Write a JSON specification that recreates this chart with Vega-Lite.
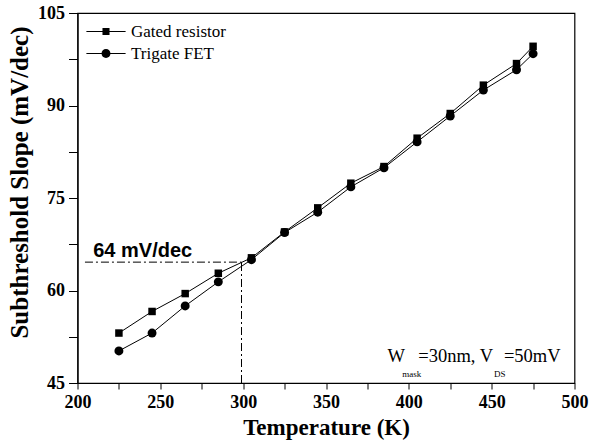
{
  "$schema": "https://vega.github.io/schema/vega-lite/v6.json",
  "width": 497,
  "height": 370,
  "autosize": {"type": "none"},
  "padding": {"left": 77.5, "top": 13, "right": 20.5, "bottom": 64},
  "background": "white",
  "config": {
    "view": {"stroke": "black", "strokeWidth": 1.2},
    "axis": {
      "grid": false,
      "domainColor": "black",
      "domainWidth": 1.2,
      "tickColor": "black",
      "tickWidth": 1,
      "labelColor": "black",
      "titleColor": "black",
      "labelFont": "Liberation Serif",
      "labelFontWeight": "bold",
      "labelFontSize": 18,
      "titleFont": "Liberation Serif",
      "titleFontWeight": "bold",
      "labelFlush": false,
      "labelOverlap": false
    }
  },
  "datasets": {
    "curves": [
      {"T": 225, "S": 53.1, "series": "Gated resistor"},
      {"T": 245, "S": 56.6, "series": "Gated resistor"},
      {"T": 265, "S": 59.5, "series": "Gated resistor"},
      {"T": 285, "S": 62.8, "series": "Gated resistor"},
      {"T": 305, "S": 65.3, "series": "Gated resistor"},
      {"T": 325, "S": 69.5, "series": "Gated resistor"},
      {"T": 345, "S": 73.4, "series": "Gated resistor"},
      {"T": 365, "S": 77.4, "series": "Gated resistor"},
      {"T": 385, "S": 80.1, "series": "Gated resistor"},
      {"T": 405, "S": 84.7, "series": "Gated resistor"},
      {"T": 425, "S": 88.7, "series": "Gated resistor"},
      {"T": 445, "S": 93.3, "series": "Gated resistor"},
      {"T": 465, "S": 96.8, "series": "Gated resistor"},
      {"T": 475, "S": 99.6, "series": "Gated resistor"},
      {"T": 225, "S": 50.2, "series": "Trigate FET"},
      {"T": 245, "S": 53.1, "series": "Trigate FET"},
      {"T": 265, "S": 57.5, "series": "Trigate FET"},
      {"T": 285, "S": 61.4, "series": "Trigate FET"},
      {"T": 305, "S": 65.0, "series": "Trigate FET"},
      {"T": 325, "S": 69.4, "series": "Trigate FET"},
      {"T": 345, "S": 72.7, "series": "Trigate FET"},
      {"T": 365, "S": 76.8, "series": "Trigate FET"},
      {"T": 385, "S": 79.9, "series": "Trigate FET"},
      {"T": 405, "S": 84.1, "series": "Trigate FET"},
      {"T": 425, "S": 88.3, "series": "Trigate FET"},
      {"T": 445, "S": 92.5, "series": "Trigate FET"},
      {"T": 465, "S": 95.8, "series": "Trigate FET"},
      {"T": 475, "S": 98.4, "series": "Trigate FET"}
    ]
  },
  "encoding": {
    "x": {
      "field": "T",
      "type": "quantitative",
      "scale": {"domain": [200, 500], "nice": false, "zero": false},
      "axis": {
        "title": "Temperature (K)",
        "titleFontSize": 23,
        "titleBaseline": "alphabetic",
        "titleY": 51,
        "values": [200, 225, 250, 275, 300, 325, 350, 375, 400, 425, 450, 475, 500],
        "labelExpr": "datum.value % 50 == 0 ? datum.label : ''",
        "tickSize": 6,
        "labelPadding": 4
      }
    },
    "y": {
      "field": "S",
      "type": "quantitative",
      "scale": {"domain": [45, 105], "nice": false, "zero": false},
      "axis": {
        "title": "Subthreshold Slope (mV/dec)",
        "titleFontSize": 25,
        "titleBaseline": "alphabetic",
        "titleAngle": 270,
        "titleAlign": "center",
        "titleX": -50.5,
        "titleY": 169,
        "values": [45, 52.5, 60, 67.5, 75, 82.5, 90, 97.5, 105],
        "labelExpr": "(datum.value - 45) % 15 == 0 ? datum.label : ''",
        "tickSize": 9,
        "labelPadding": 4
      }
    }
  },
  "layer": [
    {
      "data": {"values": [{"T": 204.5, "T2": 299, "S": 64.6}]},
      "mark": {"type": "rule", "color": "black", "strokeWidth": 1, "strokeDash": [8, 3, 2, 3]},
      "encoding": {"x2": {"field": "T2"}}
    },
    {
      "data": {"values": [{"T": 299, "S": 45, "S2": 64.6}]},
      "mark": {"type": "rule", "color": "black", "strokeWidth": 1, "strokeDash": [8, 3, 2, 3]},
      "encoding": {"y2": {"field": "S2"}}
    },
    {
      "data": {"name": "curves"},
      "mark": {"type": "line", "color": "black", "strokeWidth": 1},
      "encoding": {"detail": {"field": "series"}, "order": {"field": "T"}}
    },
    {
      "data": {"name": "curves"},
      "mark": {"type": "point", "filled": true, "color": "black", "opacity": 1},
      "encoding": {
        "shape": {
          "field": "series",
          "type": "nominal",
          "scale": {"domain": ["Gated resistor", "Trigate FET"], "range": ["square", "circle"]},
          "legend": null
        },
        "size": {
          "field": "series",
          "type": "nominal",
          "scale": {"domain": ["Gated resistor", "Trigate FET"], "range": [56, 80]},
          "legend": null
        }
      }
    },
    {
      "data": {"name": "curves"},
      "transform": [{"filter": "datum.T > 1000"}],
      "mark": {"type": "point", "filled": true, "color": "black", "opacity": 1},
      "encoding": {
        "shape": {
          "field": "series",
          "type": "nominal",
          "scale": {
            "domain": ["Gated resistor", "Trigate FET"],
            "range": [
              "M-2.45,-0.07H-0.44V0.07H-2.45ZM0.44,-0.07H2.45V0.07H0.44ZM-0.44,-0.44H0.44V0.44H-0.44Z",
              "M-2.45,-0.07H-0.5V0.07H-2.45ZM0.5,-0.07H2.45V0.07H0.5ZM-0.56,0A0.56,0.56,0,1,1,0.56,0A0.56,0.56,0,1,1,-0.56,0Z"
            ]
          },
          "legend": {
            "orient": "none",
            "legendX": 20,
            "legendY": 10,
            "title": null,
            "padding": 0,
            "symbolSize": 256,
            "symbolFillColor": "black",
            "symbolStrokeColor": "black",
            "symbolStrokeWidth": 0,
            "symbolOpacity": 1,
            "labelFont": "Liberation Serif",
            "labelFontSize": 17,
            "labelFontWeight": "normal",
            "labelColor": "black",
            "labelOffset": 16.5,
            "rowPadding": 4
          }
        }
      }
    },
    {
      "data": {"values": [{"T": 209.5, "S": 65.5, "label": "64 mV/dec"}]},
      "mark": {"type": "text", "font": "Liberation Sans", "fontWeight": "bold", "fontSize": 20, "align": "left", "baseline": "alphabetic", "color": "black"},
      "encoding": {"text": {"field": "label"}}
    },
    {
      "data": {"values": [
        {"T": 387.1, "S": 48.37, "label": "W"},
        {"T": 405.7, "S": 48.37, "label": "=30nm, V"},
        {"T": 457.4, "S": 48.37, "label": "=50mV"}
      ]},
      "mark": {"type": "text", "font": "Liberation Serif", "fontSize": 18.5, "align": "left", "baseline": "alphabetic", "color": "black"},
      "encoding": {"text": {"field": "label"}}
    },
    {
      "data": {"values": [
        {"T": 396.1, "S": 45.95, "label": "mask"},
        {"T": 451.4, "S": 45.95, "label": "DS"}
      ]},
      "mark": {"type": "text", "font": "Liberation Serif", "fontSize": 9, "align": "left", "baseline": "alphabetic", "color": "black"},
      "encoding": {"text": {"field": "label"}}
    }
  ],
  "resolve": {"scale": {"shape": "independent", "size": "independent"}}
}
